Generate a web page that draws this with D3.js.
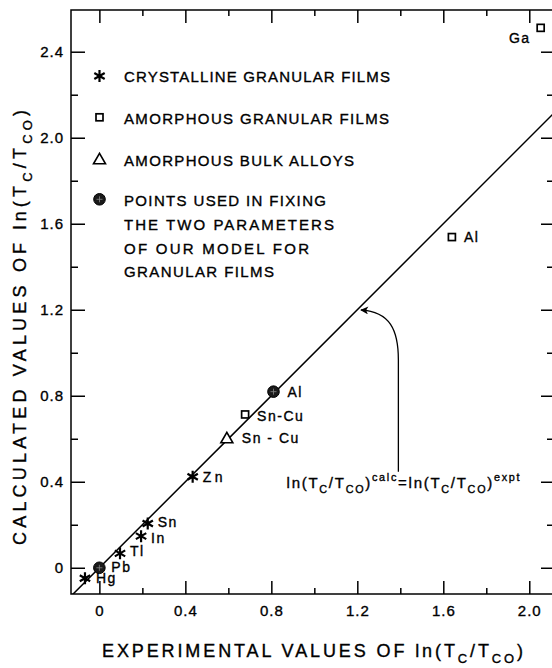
<!DOCTYPE html>
<meta charset="utf-8">
<style>
body { margin: 0; background: #fff; }
svg { font-family: "Liberation Sans", Arial, sans-serif; }
svg text { fill: #000; stroke: #000; stroke-width: 0.35px; }
.axis .domain { display: none; }
.axis line { stroke: #000; stroke-width: 1.5; }
.axis text { font-size: 15px; letter-spacing: 1px; }
</style>
<svg width="552" height="668" id="chart"></svg>
<script src="https://d3js.org/d3.v7.min.js"></script>
<script>
// tick values
var xMajor = [0, 0.4, 0.8, 1.2, 1.6, 2.0],
    xMinor = [0.2, 0.6, 1.0, 1.4, 1.8],
    yMajor = [0, 0.4, 0.8, 1.2, 1.6, 2.0, 2.4],
    yMinor = [0.2, 0.6, 1.0, 1.4, 1.8, 2.2];

// crystalline granular films (asterisks)
var crystNames = ["Hg", "Tl", "In", "Sn", "Zn"],
    crystExpt  = [-0.067, 0.096, 0.194, 0.225, 0.434],
    crystCalc  = [-0.049, 0.067, 0.147, 0.206, 0.423];

// amorphous granular films (squares)
var amorphNames = ["Sn-Cu", "Al", "Ga"],
    amorphExpt  = [0.678, 1.64, 2.053],
    amorphCalc  = [0.713, 1.538, 2.511];

// amorphous bulk alloys (triangles)
var bulkNames = ["Sn - Cu"],
    bulkExpt  = [0.593],
    bulkCalc  = [0.602];

// points used in fixing the parameters (filled circles)
var fixNames = ["Pb", "Al"],
    fixExpt  = [0, 0.81],
    fixCalc  = [0, 0.819];

var legendLines = ["CRYSTALLINE GRANULAR FILMS", "AMORPHOUS GRANULAR FILMS",
                   "AMORPHOUS BULK ALLOYS", "POINTS USED IN FIXING",
                   "THE TWO PARAMETERS", "OF OUR MODEL FOR", "GRANULAR FILMS"];

var svg = d3.select("#chart"),
    frameL = 71, frameR = 554, frameT = 10, frameB = 594;

var x = d3.scaleLinear().domain([-0.132, 2.115]).range([frameL, frameR]);
var y = d3.scaleLinear().domain([-0.122, 2.594]).range([frameB, frameT]);

var fmt = function(d) { return d === 0 ? "0" : d3.format(".1f")(d); };

// axes: ticks point inward on all four sides
svg.append("g").attr("class", "axis").attr("transform", "translate(0," + frameB + ")")
    .call(d3.axisBottom(x).tickValues(xMajor).tickSizeInner(-13).tickSizeOuter(0).tickPadding(11).tickFormat(fmt));
svg.append("g").attr("class", "axis").attr("transform", "translate(0," + frameB + ")")
    .call(d3.axisBottom(x).tickValues(xMinor).tickSizeInner(-6).tickSizeOuter(0).tickFormat(""));
svg.append("g").attr("class", "axis").attr("transform", "translate(0," + frameT + ")")
    .call(d3.axisTop(x).tickValues(xMajor).tickSizeInner(-13).tickSizeOuter(0).tickFormat(""));
svg.append("g").attr("class", "axis").attr("transform", "translate(0," + frameT + ")")
    .call(d3.axisTop(x).tickValues(xMinor).tickSizeInner(-6).tickSizeOuter(0).tickFormat(""));

svg.append("g").attr("class", "axis").attr("transform", "translate(" + frameL + ",0)")
    .call(d3.axisLeft(y).tickValues(yMajor).tickSizeInner(-14).tickSizeOuter(0).tickPadding(7).tickFormat(fmt));
svg.append("g").attr("class", "axis").attr("transform", "translate(" + frameL + ",0)")
    .call(d3.axisLeft(y).tickValues(yMinor).tickSizeInner(-7).tickSizeOuter(0).tickFormat(""));
svg.append("g").attr("class", "axis").attr("transform", "translate(" + frameR + ",0)")
    .call(d3.axisRight(y).tickValues(yMajor).tickSizeInner(-13).tickSizeOuter(0).tickFormat(""));
svg.append("g").attr("class", "axis").attr("transform", "translate(" + frameR + ",0)")
    .call(d3.axisRight(y).tickValues(yMinor).tickSizeInner(-7).tickSizeOuter(0).tickFormat(""));

svg.append("rect")
    .attr("x", frameL).attr("y", frameT)
    .attr("width", frameR - frameL).attr("height", frameB - frameT)
    .attr("fill", "none").attr("stroke", "#000").attr("stroke-width", 1.5);

// y = x line, clipped to the frame
svg.append("clipPath").attr("id", "frame")
  .append("rect").attr("x", frameL).attr("y", frameT).attr("width", frameR - frameL).attr("height", frameB - frameT);

svg.append("line")
    .attr("clip-path", "url(#frame)")
    .attr("x1", x(-0.2)).attr("y1", y(-0.2))
    .attr("x2", x(2.7)).attr("y2", y(2.7))
    .attr("stroke", "#000").attr("stroke-width", 1.5);

// marker drawing
function star(g, cx, cy) {
  var r = 6, d = "";
  [90, 30, -30].forEach(function(a) {
    var dx = r * Math.cos(a * Math.PI / 180), dy = r * Math.sin(a * Math.PI / 180);
    d += "M" + (cx - dx) + "," + (cy - dy) + "L" + (cx + dx) + "," + (cy + dy);
  });
  g.append("path").attr("d", d).attr("stroke", "#000").attr("stroke-width", 2.2);
}
function square(g, cx, cy) {
  g.append("rect").attr("x", cx - 3.5).attr("y", cy - 3.5).attr("width", 7).attr("height", 7)
      .attr("fill", "#fff").attr("stroke", "#000").attr("stroke-width", 1.7);
}
function triangle(g, cx, cy) {
  g.append("path").attr("d", "M" + (cx - 6) + "," + (cy + 4.5) + "L" + (cx + 6) + "," + (cy + 4.5) + "L" + cx + "," + (cy - 6) + "Z")
      .attr("fill", "#fff").attr("stroke", "#000").attr("stroke-width", 1.6);
}
function disc(g, cx, cy) {
  g.append("circle").attr("cx", cx).attr("cy", cy).attr("r", 5.8).attr("fill", "#1a1a1a").attr("stroke", "#000");
  g.append("path").attr("d", "M" + (cx - 3) + "," + cy + "h6M" + cx + "," + (cy - 3) + "v6")
      .attr("stroke", "#888").attr("stroke-width", 0.8);
}

// label offsets (px) from each point
var labelPos = {
  "Hg": [11, 5], "Tl": [10, 3], "In": [10, 7], "Sn": [10, 4], "Zn": [10, 5],
  "Sn-Cu": [12, 7], "Al_a": [12, 5], "Ga": [-10, 15, "end"],
  "Sn - Cu": [15, 5], "Pb": [12, 4], "Al_f": [14, 5.5]
};

var marks = svg.append("g");

function plotSeries(names, xs, ys, draw, suffix) {
  names.forEach(function(n, i) {
    var px = x(xs[i]), py = y(ys[i]);
    draw(marks, px, py);
    var p = labelPos[n] || labelPos[n + suffix];
    marks.append("text")
        .attr("x", px + p[0]).attr("y", py + p[1])
        .attr("text-anchor", p[2] || "start")
        .attr("font-size", 14).attr("letter-spacing", n === "Zn" ? 3.5 : 1.5)
        .text(n);
  });
}
plotSeries(crystNames, crystExpt, crystCalc, star, "");
plotSeries(amorphNames, amorphExpt, amorphCalc, square, "_a");
plotSeries(bulkNames, bulkExpt, bulkCalc, triangle, "");
plotSeries(fixNames, fixExpt, fixCalc, disc, "_f");

// legend
var legendSymbols = [star, square, triangle, disc],
    legendSymY = [76, 117.3, 159.3, 199.3],
    legendBase = [81.7, 124, 166, 205.7, 230, 254.3, 277.3],
    legendWidth = [266, 265, 230, 202, 210, 185, 150];

legendSymbols.forEach(function(f, i) { f(svg, 99.5, legendSymY[i]); });

function fit(t, w) {
  var len = t.node().getComputedTextLength(), n = t.text().length;
  t.attr("letter-spacing", (w - len) / (n - 1));
}

svg.append("g").selectAll("text").data(legendLines).enter().append("text")
    .attr("x", 124)
    .attr("y", function(d, i) { return legendBase[i]; })
    .attr("font-size", 15)
    .text(function(d) { return d; })
    .each(function(d, i) { fit(d3.select(this), legendWidth[i]); });

// rich text with sub/superscripts
function rich(g, parts, size) {
  var t = g.append("text").attr("font-size", size), off = 0;
  parts.forEach(function(p) {
    var target = p[1] === "sub" ? size * 0.32 : p[1] === "sup" ? -size * 0.45 : 0;
    t.append("tspan").attr("dy", target - off)
        .attr("font-size", p[1] ? size * 0.72 : size).text(p[0]);
    off = target;
  });
  return t;
}

var lnParts = [["ln(T", ""], ["C", "sub"], ["/T", ""], ["CO", "sub"], [")", ""]];

var xl = rich(svg, [["EXPERIMENTAL VALUES OF "]].concat(lnParts), 18)
    .attr("x", 102).attr("y", 657);
fit(xl, 421);

var ylab = rich(svg, [["CALCULATED VALUES OF "]].concat(lnParts), 18)
    .attr("transform", "translate(26,545) rotate(-90)");
fit(ylab, 435);

// annotation with arrow
var eqParts = [["ln(T", ""], ["C", "sub"], ["/T", ""], ["CO", "sub"], [")", ""], ["calc", "sup"],
               ["=ln(T", ""], ["C", "sub"], ["/T", ""], ["CO", "sub"], [")", ""], ["expt", "sup"]];
var eq = rich(svg, eqParts, 15).attr("x", x(0.871)).attr("y", y(0.371));
fit(eq, 233);

svg.append("defs").append("marker")
    .attr("id", "head").attr("viewBox", "0 0 10 10").attr("refX", 9).attr("refY", 5)
    .attr("markerWidth", 10).attr("markerHeight", 8).attr("markerUnits", "userSpaceOnUse")
    .attr("orient", "auto")
  .append("path").attr("d", "M0,0L10,5L0,10L2.5,5Z").attr("fill", "#000");

var ap = d3.path();
ap.moveTo(x(1.391), y(0.446));
ap.lineTo(x(1.391), y(0.966));
ap.bezierCurveTo(x(1.391), y(1.106), x(1.352), y(1.190), x(1.217), y(1.199));
svg.append("path").attr("d", ap.toString())
    .attr("fill", "none").attr("stroke", "#000").attr("stroke-width", 1.3)
    .attr("marker-end", "url(#head)");
</script>
